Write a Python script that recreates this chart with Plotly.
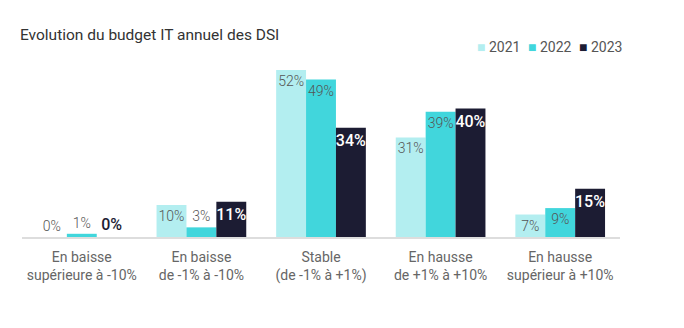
import plotly.graph_objects as go

categories = ["En baisse<br>supérieure à -10%", "En baisse<br>de -1% à -10%", "Stable<br>(de -1% à +1%)",
              "En hausse<br>de +1% à +10%", "En hausse<br>supérieur à +10%"]
years = ["2021", "2022", "2023"]
v2021 = [0, 10, 52, 31, 7]
v2022 = [1, 3, 49, 39, 9]
v2023 = [0, 11, 34, 40, 15]
colors = ["#b3eef0", "#41d6dc", "#1c1c33"]
title = "Evolution du budget IT annuel des DSI"

FONT = "Roboto"
fig = go.Figure()
for i, (yr, vals, col) in enumerate(zip(years, [v2021, v2022, v2023], colors)):
    pos = ["outside" if v < 5 else "inside" for v in vals]
    if i == 2:
        tcol = ["#1c1c33" if v < 5 else "white" for v in vals]
        tf = dict(family=FONT, size=16, color=tcol, weight=500)
    else:
        tf = dict(family=FONT, size=14, color="#555555", weight=300)
    fig.add_trace(go.Bar(
        name=yr, x=categories, y=vals, marker=dict(color=col, line=dict(width=0)),
        text=[f"{v}%" for v in vals], textposition=pos, insidetextanchor="end",
        textangle=0, constraintext="none",
        textfont=tf, cliponaxis=False, showlegend=False,
    ))

# legend drawn as annotations
leg_x = [475, 526, 577]
for yr, col, lx in zip(years, colors, leg_x):
    fig.add_annotation(xref="paper", yref="paper", x=(lx - 22) / 598, y=(237 - 47) / 177,
                       xanchor="left", yanchor="middle",
                       text=f"<span style='color:{col}'>■</span> {yr}", showarrow=False,
                       font=dict(family=FONT, size=14, color="#555555"))

fig.update_layout(
    width=684, height=328,
    margin=dict(l=22, r=64, t=60, b=91),
    paper_bgcolor="white", plot_bgcolor="white",
    barmode="group", bargap=0.25, bargroupgap=0,
    title=dict(text=title, x=20/684, xref="container", xanchor="left",
               y=1 - 35/328, yref="container", yanchor="middle",
               font=dict(family=FONT, size=15.5, color="#333333")),
    font=dict(family=FONT),
    xaxis=dict(showline=True, linecolor="#dddddd", linewidth=2, ticks="", showgrid=False,
               ticklabelstandoff=6,
               tickfont=dict(family=FONT, size=14, color="#666666")),
    yaxis=dict(visible=False, range=[0, 55.1], showgrid=False, zeroline=False),
)
fig.write_html("out.html")
